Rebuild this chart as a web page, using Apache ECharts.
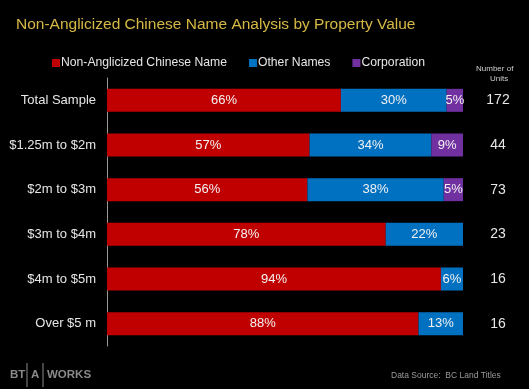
<!DOCTYPE html>
<html>
<head>
<meta charset="utf-8">
<script src="https://cdn.jsdelivr.net/npm/echarts@6/dist/echarts.min.js"></script>
<style>
html,body{margin:0;padding:0;background:#000;}
#c{width:529px;height:389px;}
</style>
</head>
<body>
<div id="c"></div>
<script>
const categories = ['Total Sample', '$1.25m to $2m', '$2m to $3m', '$3m to $4m', '$4m to $5m', 'Over $5 m'];
const nonAnglicized = [65.7, 56.9, 56.3, 78.3, 93.8, 87.5];
const otherNames = [29.7, 34.2, 38.3, 21.7, 6.2, 12.5];
const corporation = [4.6, 8.9, 5.4, 0, 0, 0];
const units = ['172', '44', '73', '23', '16', '16'];

const chart = echarts.init(document.getElementById('c'));
const font = 'Liberation Sans, Arial, sans-serif';
const lbl = {
  show: true, position: 'inside', color: '#f2f2f2', fontSize: 13, fontFamily: font,
  formatter: p => p.value > 0 ? Math.round(p.value) + '%' : ''
};
chart.setOption({
  backgroundColor: '#000',
  animation: false,
  title: {
    text: 'Non-Anglicized Chinese Name Analysis by Property Value',
    left: 11, top: 12,
    textStyle: { color: '#d6b845', fontSize: 15.5, fontWeight: 'normal', fontFamily: font }
  },
  legend: {
    left: 47, top: 52,
    itemWidth: 8, itemHeight: 8, itemGap: 22,
    icon: 'rect',
    textStyle: { color: '#e6e6e6', fontSize: 12.2, fontFamily: font, padding: [0, 0, 0, -4] },
    data: ['Non-Anglicized Chinese Name', 'Other Names', 'Corporation']
  },
  grid: { left: 107, right: 66, top: 78, bottom: 43 },
  xAxis: { type: 'value', min: 0, max: 100, show: false },
  yAxis: [{
    type: 'category', data: categories, inverse: true,
    axisLine: { show: true, lineStyle: { color: '#999', width: 1 } },
    axisTick: { show: false },
    axisLabel: { color: '#e6e6e6', fontSize: 13, fontFamily: font, margin: 11, padding: [3, 0, 0, 0] }
  }, {
    type: 'category', data: units, inverse: true, position: 'right',
    axisLine: { show: false }, axisTick: { show: false },
    axisLabel: { color: '#e6e6e6', fontSize: 14, fontFamily: font, margin: 35, align: 'center', padding: [3, 0, 0, 0] }
  }],
  series: [
    { name: 'Non-Anglicized Chinese Name', type: 'bar', stack: 's', data: nonAnglicized, barWidth: 23, itemStyle: { color: '#c00000' }, label: lbl },
    { name: 'Other Names', type: 'bar', stack: 's', data: otherNames, barWidth: 23, itemStyle: { color: '#0070c0' }, label: lbl },
    { name: 'Corporation', type: 'bar', stack: 's', data: corporation, barWidth: 23, itemStyle: { color: '#7030a0' }, label: lbl }
  ],
  graphic: [
    { type: 'text', left: 476, top: 65, style: { text: 'Number of', fill: '#cfcfcf', fontSize: 8, fontFamily: font } },
    { type: 'text', left: 490, top: 75, style: { text: 'Units', fill: '#cfcfcf', fontSize: 8, fontFamily: font } },
    { type: 'text', left: 391, top: 371, style: { text: 'Data Source:  BC Land Titles', fill: '#9a9a9a', fontSize: 8.5, fontFamily: font } },
    { type: 'text', left: 10, top: 369, style: { text: 'BT', fill: '#8a8a8a', fontSize: 11.5, fontWeight: 'bold', fontFamily: font } },
    { type: 'line', shape: { x1: 27, y1: 363, x2: 27, y2: 387 }, style: { stroke: '#8a8a8a', lineWidth: 1 } },
    { type: 'text', left: 31, top: 369, style: { text: 'A', fill: '#8a8a8a', fontSize: 11.5, fontWeight: 'bold', fontFamily: font } },
    { type: 'line', shape: { x1: 43, y1: 363, x2: 43, y2: 387 }, style: { stroke: '#8a8a8a', lineWidth: 1 } },
    { type: 'text', left: 47, top: 369, style: { text: 'WORKS', fill: '#8a8a8a', fontSize: 11.5, fontWeight: 'bold', fontFamily: font } }
  ]
});
</script>
</body>
</html>
